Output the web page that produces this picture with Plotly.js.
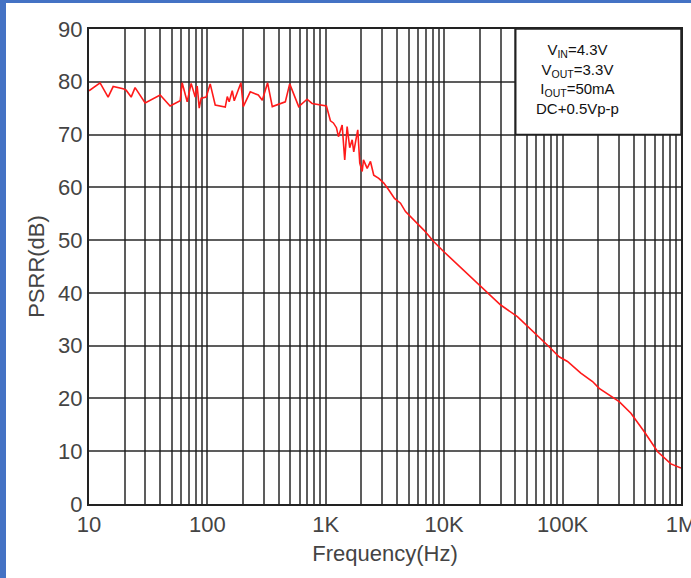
<!DOCTYPE html>
<html>
<head>
<meta charset="utf-8">
<script src="https://cdn.plot.ly/plotly-3.0.1.min.js"></script>
<style>
html,body{margin:0;padding:0;background:#fff;}
#wrap{position:relative;width:691px;height:578px;overflow:hidden;}
#chart{position:absolute;left:0;top:0;width:691px;height:578px;}
.bl{position:absolute;left:0;top:0;width:6px;height:578px;background:#4472C4;}
.bt{position:absolute;left:0;top:0;width:691px;height:3px;background:#4472C4;}
</style>
</head>
<body>
<div id="wrap"><div id="chart"></div><div class="bl"></div><div class="bt"></div></div>
<script>
// Frequency (Hz) and PSRR (dB)
const freqHz = [10, 12.4, 14.5, 16.0, 19.4, 20.6, 22.7, 24.5, 29.8, 39.9, 48.4, 58.9, 61.2, 64.9, 67.5, 72.9, 78.9, 82.0, 85.3, 88.6, 97.7, 105.6, 116.4, 141.5, 147.2, 152.8, 162.1, 168.6, 178.7, 192.0, 200.9, 230.1, 269.0, 290.9, 322.4, 353.2, 455.0, 495.5, 590.2, 695.0, 765.6, 899.6, 1012, 1094, 1159, 1230, 1279, 1374, 1416, 1445, 1514, 1592, 1670, 1722, 1816, 1862, 1936, 2029, 2080, 2236, 2384, 2541, 2803, 3090, 3406, 3805, 4276, 4712, 6730, 8185, 9937, 19670, 30000, 41500, 61350, 76900, 93500, 110000, 142500, 179000, 203700, 300600, 377600, 489800, 635300, 822000, 1000000];
const psrrDb = [78.3, 79.8, 77.1, 79.1, 78.7, 78.4, 77.1, 78.9, 76.0, 77.5, 75.4, 76.4, 79.8, 77.5, 76.2, 79.7, 77.1, 79.2, 75.0, 76.9, 77.1, 79.6, 75.6, 75.2, 77.2, 76.2, 78.3, 76.4, 78.1, 79.8, 75.3, 78.1, 77.5, 76.5, 79.8, 75.3, 76.2, 79.6, 75.3, 76.7, 75.9, 75.6, 75.4, 72.6, 72.2, 71.3, 69.6, 71.8, 68.4, 65.2, 71.5, 67.5, 69.0, 66.7, 69.6, 70.9, 64.6, 63.0, 65.2, 63.6, 64.9, 62.3, 61.7, 60.8, 59.5, 57.9, 57.0, 55.4, 51.9, 49.7, 47.8, 41.5, 37.7, 35.5, 32.0, 29.8, 27.9, 27.0, 24.8, 23.2, 21.9, 19.4, 17.2, 13.7, 9.9, 7.6, 6.8];

const decadeLabels = {10:'10', 100:'100', 1000:'1K', 10000:'10K', 100000:'100K', 1000000:'1M'};
const decades = [10, 100, 1000, 10000, 100000];
const xTickVals = [];
const xTickText = [];
decades.forEach(d => { for (let m = 1; m <= 9; m++) { xTickVals.push(d*m); xTickText.push(m === 1 ? decadeLabels[d] : ''); } });
xTickVals.push(1000000); xTickText.push(decadeLabels[1000000]);

const yTickVals = [0,10,20,30,40,50,60,70,80,90];
const noteLines = ['V<sub>IN</sub>=4.3V', 'V<sub>OUT</sub>=3.3V', 'I<sub>OUT</sub>=50mA', 'DC+0.5Vp-p'];

const gridCol = 'rgba(30,30,30,0.72)';
const tickFont = {family: 'Liberation Sans, Arial, sans-serif', size: 22, color: '#444'};

const trace = {x: freqHz, y: psrrDb, type: 'scatter', mode: 'lines',
  line: {color: '#ff1a1a', width: 1.6}, hoverinfo: 'skip'};

const layout = {
  width: 691, height: 578,
  margin: {l: 89, r: 10, t: 29, b: 74},
  paper_bgcolor: '#fff', plot_bgcolor: '#fff',
  showlegend: false,
  xaxis: {type: 'log', range: [1, 6], tickvals: xTickVals, ticktext: xTickText,
    showgrid: true, gridcolor: gridCol, gridwidth: 2, ticks: '',
    showline: true, linecolor: '#222', linewidth: 2, mirror: true,
    tickfont: tickFont, zeroline: false, ticklabeloverflow: 'allow',
    title: {text: 'Frequency(Hz)', font: tickFont, standoff: 9}},
  yaxis: {range: [0, 90], tickvals: yTickVals, showgrid: true, gridcolor: gridCol, gridwidth: 2,
    ticks: '', showline: true, linecolor: '#222', linewidth: 2, mirror: true,
    tickfont: tickFont, zeroline: false,
    title: {text: 'PSRR(dB)', font: tickFont, standoff: 7}},
  shapes: [{type: 'rect', xref: 'x', yref: 'y', x0: 40200, x1: 1000000, y0: 70, y1: 90,
    fillcolor: '#fff', line: {color: '#222', width: 1.5}, layer: 'above'}],
  annotations: [{xref: 'paper', yref: 'paper', x: (577-89)/592, y: (504-79)/475,
    xanchor: 'center', yanchor: 'middle',
    text: noteLines.join('<br>'), showarrow: false, align: 'center',
    font: {family: 'Liberation Sans, Arial, sans-serif', size: 15, color: '#111'}}]
};

Plotly.newPlot('chart', [trace], layout, {staticPlot: true, displayModeBar: false});
</script>
</body>
</html>
